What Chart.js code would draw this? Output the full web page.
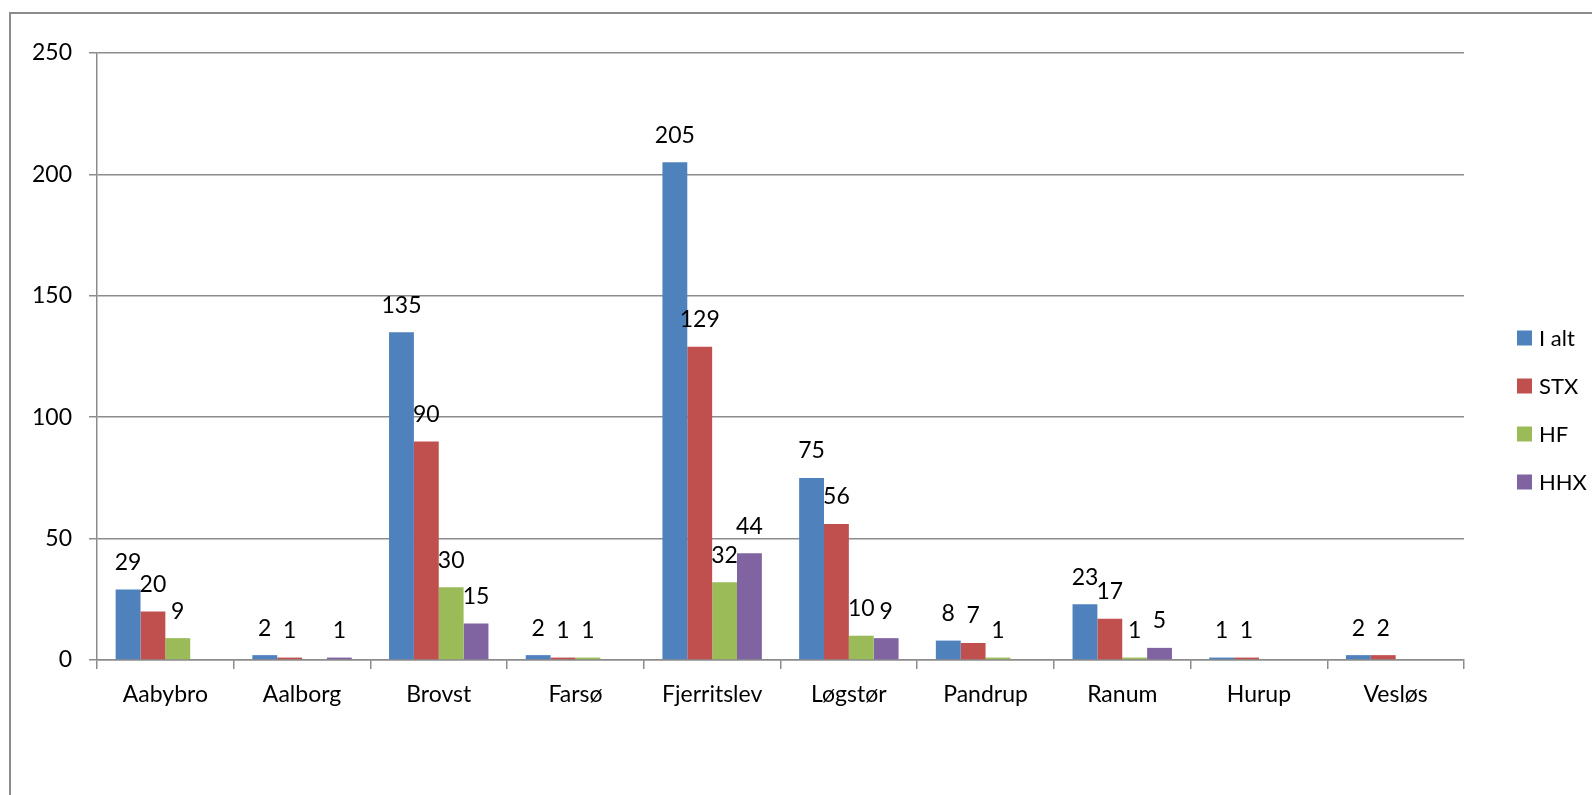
<!DOCTYPE html>
<html>
<head>
<meta charset="utf-8">
<script src="https://cdn.jsdelivr.net/npm/chart.js@4.4.1/dist/chart.umd.min.js"></script>
<style>
  html, body { margin: 0; padding: 0; background: #fff; }
  #frame { position: absolute; left: 9px; top: 12px; width: 1600px; height: 800px;
           border-left: 2px solid #8c8c8c; border-top: 2px solid #8c8c8c; }
  #wrap { position: absolute; left: 0; top: 0; width: 1592px; height: 795px; }
</style>
</head>
<body>
<div id="frame"></div>
<div id="wrap"><canvas id="chart" width="1592" height="795"></canvas></div>
<script>
document.addEventListener('DOMContentLoaded', function() {
    // Chart data
    const categories = ['Aabybro', 'Aalborg', 'Brovst', 'Farsø', 'Fjerritslev', 'Løgstør', 'Pandrup', 'Ranum', 'Hurup', 'Vesløs'];
    const iAlt = [29, 2, 135, 2, 205, 75, 8, 23, 1, 2];
    const stx = [20, 1, 90, 1, 129, 56, 7, 17, 1, 2];
    const hf = [9, 0, 30, 1, 32, 10, 1, 1, 0, 0];
    const hhx = [0, 1, 15, 0, 44, 9, 0, 5, 0, 0];
    const yTicks = [0, 50, 100, 150, 200, 250];

    const fontFamily = 'Lato, "Open Sans", sans-serif';
    const gridColor = '#8c8c8c';

    // Value labels above each bar (zeros are skipped)
    const valueLabels = {
        id: 'valueLabels',
        afterDatasetsDraw(chart) {
            const ctx = chart.ctx;
            ctx.save();
            ctx.font = '23px ' + fontFamily;
            ctx.fillStyle = '#000';
            ctx.textAlign = 'center';
            ctx.textBaseline = 'middle';
            chart.data.datasets.forEach((ds, i) => {
                const meta = chart.getDatasetMeta(i);
                meta.data.forEach((bar, j) => {
                    const v = ds.data[j];
                    if (!v) return;
                    ctx.fillText(String(v), bar.x, bar.y - 27);
                });
            });
            ctx.restore();
        }
    };

    // Legend on the right, Excel style
    const sideLegend = {
        id: 'sideLegend',
        afterDraw(chart) {
            const ctx = chart.ctx;
            ctx.save();
            ctx.font = '22px ' + fontFamily;
            ctx.textAlign = 'left';
            ctx.textBaseline = 'middle';
            chart.data.datasets.forEach((ds, i) => {
                const y = 338 + i * 48;
                ctx.fillStyle = ds.backgroundColor;
                ctx.fillRect(1517, y - 7.5, 15, 15);
                ctx.fillStyle = '#000';
                ctx.fillText(ds.label, 1539, y + 1);
            });
            ctx.restore();
        }
    };

    const ctx = document.getElementById('chart').getContext('2d');
    new Chart(ctx, {
        type: 'bar',
        data: {
            labels: categories,
            datasets: [
                { label: 'I alt', data: iAlt, backgroundColor: '#4F81BD' },
                { label: 'STX', data: stx, backgroundColor: '#C0504D' },
                { label: 'HF', data: hf, backgroundColor: '#9BBB59' },
                { label: 'HHX', data: hhx, backgroundColor: '#8064A2' }
            ]
        },
        options: {
            responsive: false,
            animation: false,
            datasets: {
                bar: { categoryPercentage: 4 / 5.5, barPercentage: 1 }
            },
            layout: { padding: { top: 53, right: 128, left: 0, bottom: 0 } },
            plugins: {
                legend: { display: false },
                tooltip: { enabled: false }
            },
            scales: {
                x: {
                    afterFit(scale) { scale.height = 135; },
                    grid: {
                        offset: true,
                        drawOnChartArea: false,
                        drawTicks: true,
                        tickLength: 9,
                        color: gridColor,
                        lineWidth: 1.5
                    },
                    border: { display: true, color: gridColor, width: 1.5 },
                    ticks: {
                        color: '#000',
                        font: { family: fontFamily, size: 23 },
                        padding: 12,
                        maxRotation: 0
                    }
                },
                y: {
                    min: 0,
                    max: 250,
                    afterFit(scale) { scale.width = 97; },
                    afterBuildTicks(scale) {
                        scale.ticks = yTicks.map(v => ({ value: v }));
                    },
                    grid: {
                        color: gridColor,
                        lineWidth: 1.5,
                        drawTicks: true,
                        tickLength: 8
                    },
                    border: { display: true, color: gridColor, width: 1.5 },
                    ticks: {
                        color: '#000',
                        font: { family: fontFamily, size: 23 },
                        padding: 17
                    }
                }
            }
        },
        plugins: [valueLabels, sideLegend]
    });
});
</script>
</body>
</html>
